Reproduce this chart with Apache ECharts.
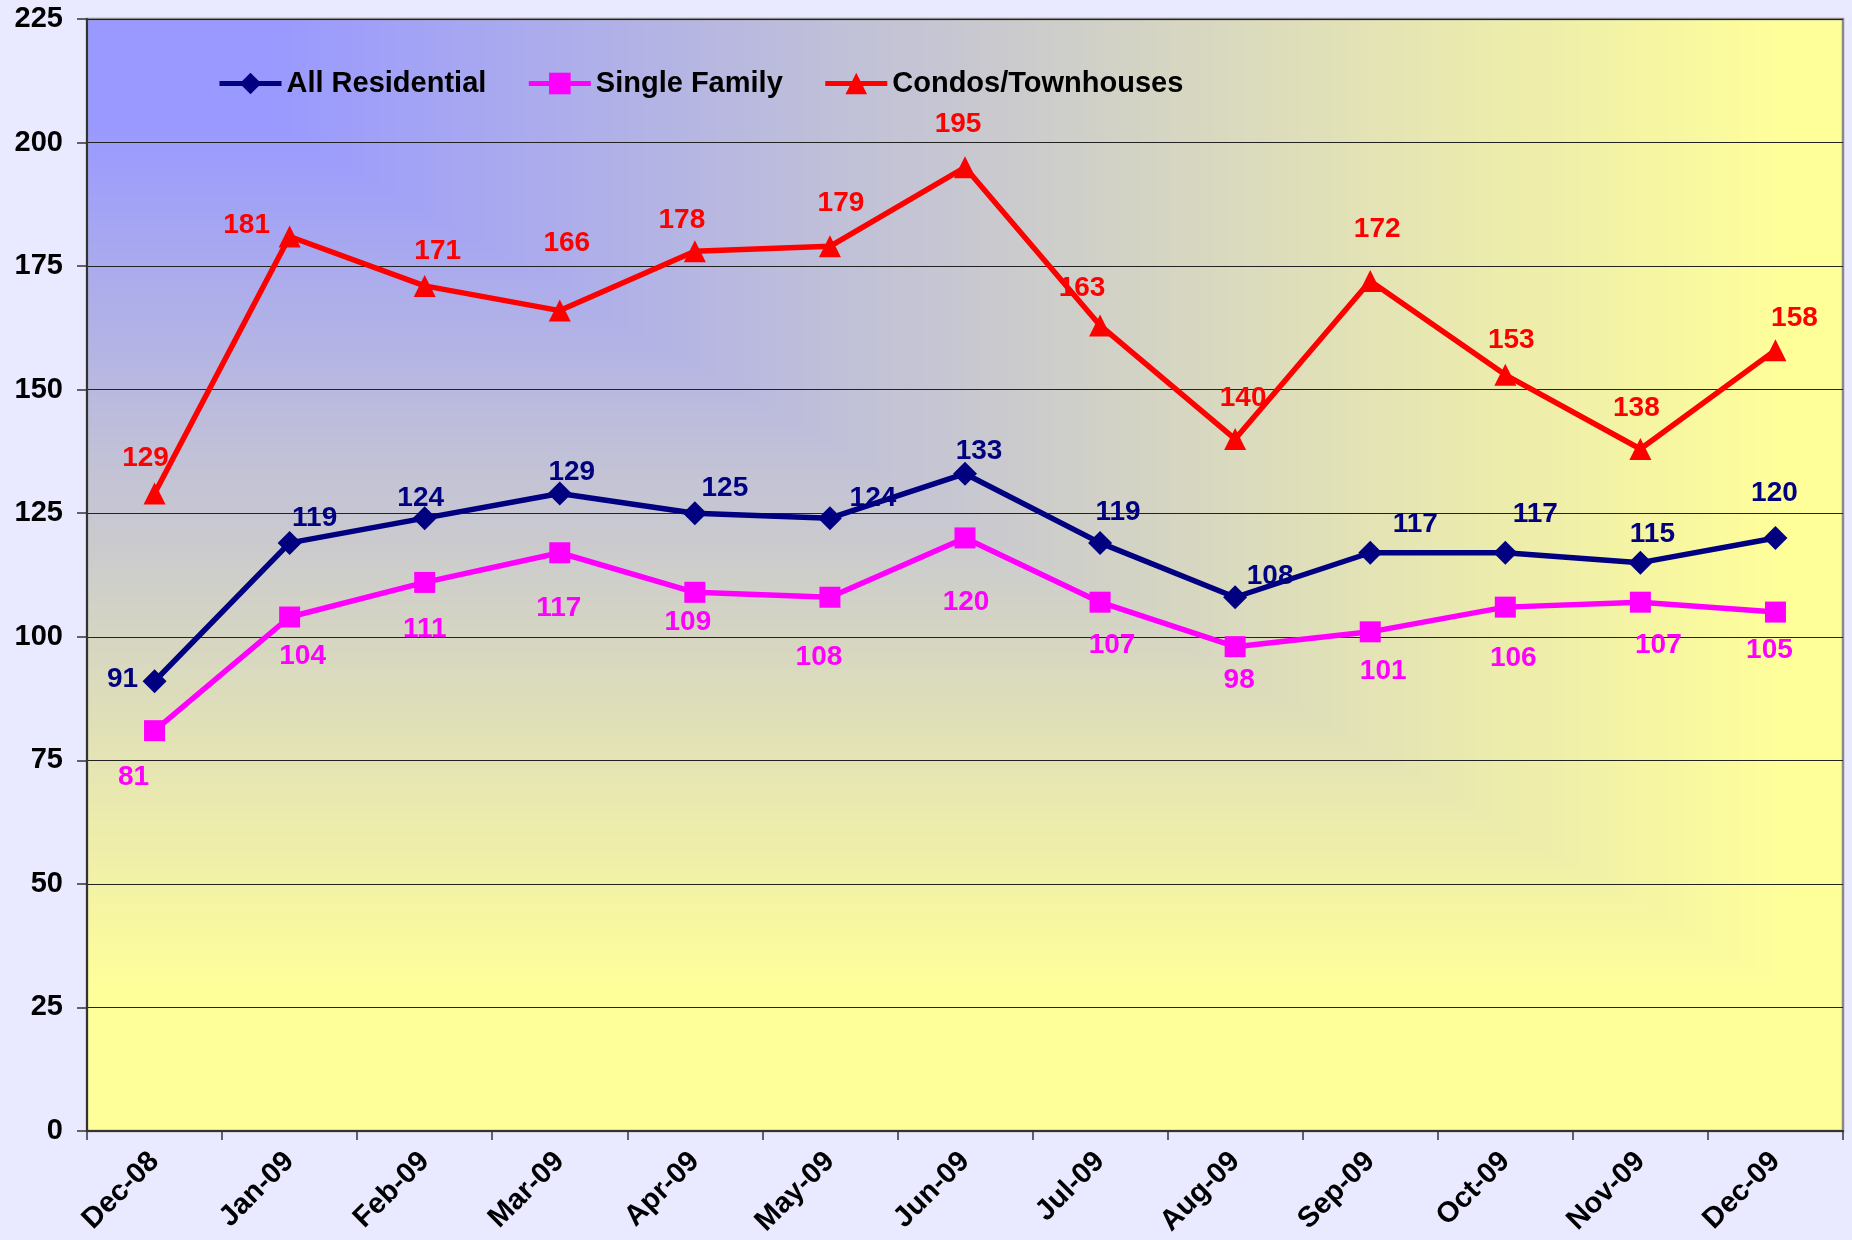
<!DOCTYPE html>
<html>
<head>
<meta charset="utf-8">
<title>Residential Index, Dec-08 to Dec-09</title>
<script src="https://cdn.jsdelivr.net/npm/echarts@6/dist/echarts.min.js"></script>
<style>
  html, body { margin: 0; padding: 0; background: #E9E9FF; }
  #chart { width: 1852px; height: 1240px; }
</style>
</head>
<body>
<div id="chart"></div>
<script>
// Monthly values
const categories = ['Dec-08', 'Jan-09', 'Feb-09', 'Mar-09', 'Apr-09', 'May-09', 'Jun-09',
                    'Jul-09', 'Aug-09', 'Sep-09', 'Oct-09', 'Nov-09', 'Dec-09'];
const allResidential = [91, 119, 124, 129, 125, 124, 133, 119, 108, 117, 117, 115, 120];
const singleFamily   = [81, 104, 111, 117, 109, 108, 120, 107, 98, 101, 106, 107, 105];
const condos         = [129, 181, 171, 166, 178, 179, 195, 163, 140, 172, 153, 138, 158];
const yTicks = { min: 0, max: 225, interval: 25 };

// Per-point label nudges (pixels, relative to the marker centre)
const allResLabelShift = [[-32, -2], [25, -25], [-4, -20], [12, -21], [30, -25], [43, -20], [14, -22],
                          [18, -31], [35, -21], [45, -28], [30, -38], [12, -28], [-1, -45]];
const singleLabelShift = [[-21, 47], [13, 39], [0, 47], [-1, 56], [-7, 30], [-11, 60], [1, 64],
                          [12, 43], [4, 34], [13, 39], [8, 51], [18, 43], [-6, 38]];
const condoLabelShift  = [[-9, -35], [-43, -11], [13, -35], [7, -67], [-13, -31], [11, -43], [-7, -43],
                          [-18, -37], [8, -41], [7, -52], [6, -35], [-4, -41], [19, -32]];

// Plot rectangle
const GX = 87, GY = 19, GW = 1756, GH = 1112;

const FONT = '"Liberation Sans", Arial, sans-serif';

// Corner gradient: blue in the top-left corner fading to yellow, drawn as nested bands
function mix(t) {
  const a = [0x99, 0x99, 0xFF], b = [0xFF, 0xFF, 0x99];
  const c = a.map((v, i) => Math.round(v + (b[i] - v) * t));
  return 'rgb(' + c.join(',') + ')';
}
const bands = [];
const N = 120;
bands.push({ type: 'rect', z: -10, silent: true,
  shape: { x: GX, y: GY, width: GW, height: GH }, style: { fill: mix(1) } });
for (let i = N; i >= 1; i--) {
  const t = i / N;
  const ct = Math.min(1, Math.max(0, ((i - 0.5) / N - 0.1) / 0.87));
  bands.push({
    type: 'rect', z: -10, silent: true,
    shape: { x: GX, y: GY, width: GW * t, height: Math.min(GH, GH * 0.9 * t) },
    style: { fill: mix(ct) }
  });
}

function buildData(values, shifts) {
  return values.map((v, i) => ({ value: v, label: { offset: shifts[i] } }));
}

function lineSeries(name, values, shifts, color, symbol, size) {
  return {
    name: name,
    type: 'line',
    data: buildData(values, shifts),
    symbol: symbol,
    symbolSize: size,
    showAllSymbol: true,
    lineStyle: { color: color, width: 5.5 },
    itemStyle: { color: color },
    label: {
      show: true,
      position: 'inside',
      color: color,
      fontFamily: FONT,
      fontWeight: 'bold',
      fontSize: 28
    },
    emphasis: { disabled: true },
    animation: false
  };
}

const chart = echarts.init(document.getElementById('chart'), null, { renderer: 'canvas' });
chart.setOption({
  backgroundColor: '#E9E9FF',
  animation: false,
  textStyle: { fontFamily: FONT },
  graphic: { elements: bands },
  grid: {
    left: GX, top: GY, width: GW, height: GH,
    outerBoundsMode: 'none',
    containLabel: false,
    show: true, borderColor: '#8A8A8A', borderWidth: 2.5, backgroundColor: 'transparent'
  },
  legend: {
    left: 217, top: 69, padding: 0,
    itemWidth: 62, itemHeight: 27, itemGap: 40,
    lineStyle: { width: 5 },
    textStyle: { color: '#000', fontFamily: FONT, fontWeight: 'bold', fontSize: 29 },
    data: ['All Residential', 'Single Family', 'Condos/Townhouses']
  },
  xAxis: {
    type: 'category',
    data: categories,
    boundaryGap: true,
    axisLine: { lineStyle: { color: '#333', width: 2 } },
    axisTick: { show: true, length: 9, lineStyle: { color: '#333', width: 1.5 } },
    axisLabel: {
      rotate: 45, margin: 26, color: '#000',
      fontFamily: FONT, fontWeight: 'bold', fontSize: 29,
      interval: 0
    },
    splitLine: { show: false }
  },
  yAxis: {
    type: 'value',
    min: yTicks.min, max: yTicks.max, interval: yTicks.interval,
    axisLine: { show: true, lineStyle: { color: '#333', width: 2 } },
    axisTick: { show: true, length: 10, lineStyle: { color: '#333', width: 1.5 } },
    axisLabel: {
      margin: 24, color: '#000',
      fontFamily: FONT, fontWeight: 'bold', fontSize: 29
    },
    splitLine: { show: true, lineStyle: { color: '#222', width: 1 } }
  },
  series: [
    lineSeries('All Residential', allResidential, allResLabelShift, '#000080', 'diamond', 24),
    lineSeries('Single Family', singleFamily, singleLabelShift, '#FF00FF', 'rect', 21),
    lineSeries('Condos/Townhouses', condos, condoLabelShift, '#FF0000', 'triangle', 22)
  ]
});
</script>
</body>
</html>
